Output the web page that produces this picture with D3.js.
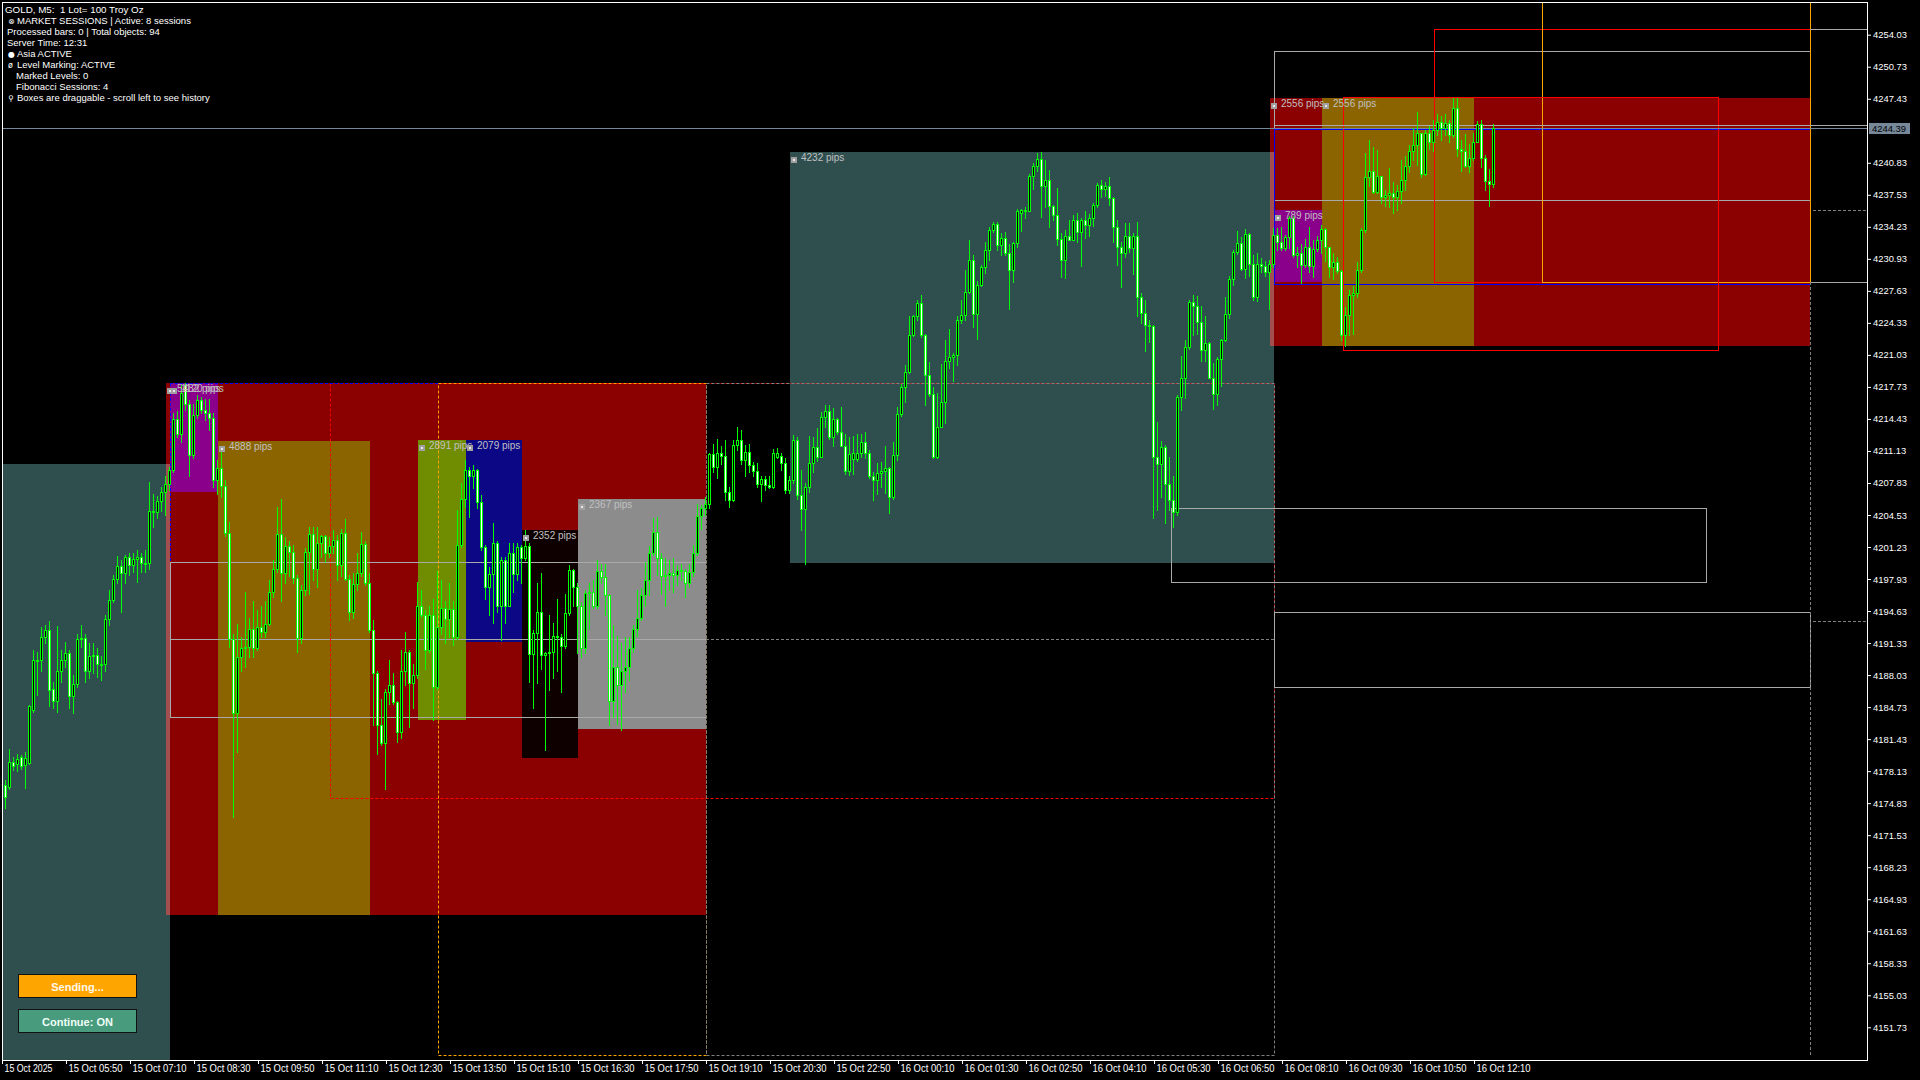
<!DOCTYPE html>
<html><head><meta charset="utf-8">
<script src="https://cdn.jsdelivr.net/npm/d3@7/dist/d3.min.js"></script>
<style>
html,body{margin:0;padding:0;background:#000;overflow:hidden}
svg{display:block}
text{font-family:"Liberation Sans",Arial,sans-serif}
</style></head><body>
<svg id="chart" width="1920" height="1080"></svg>
<script>
// ---------- DATA ----------
const barOpen=[
4176.7,4176.5,4179.1,4178.9,4179.6,4178.8,4179.0,4184.4,4189.5,4189.6,
4192.0,4192.7,4186.6,4185.4,4188.4,4189.6,4190.3,4185.9,4187.1,4191.7,
4191.9,4188.4,4190.0,4190.1,4189.2,4189.2,4193.8,4195.8,4197.9,4199.3,
4198.5,4200.2,4199.4,4200.0,4200.2,4199.6,4199.6,4204.9,4204.8,4206.0,
4206.9,4207.7,4209.2,4214.4,4212.9,4217.9,4216.0,4210.7,4214.8,4216.4,
4215.3,4215.0,4214.5,4208.1,4209.4,4207.5,4202.7,4191.8,4184.1,4189.9,
4190.8,4190.9,4192.8,4190.8,4193.0,4192.5,4193.3,4196.6,4199.0,4202.6,
4198.6,4201.3,4200.7,4198.0,4191.9,4196.8,4200.7,4202.6,4199.0,4201.6,
4202.4,4200.6,4201.3,4202.0,4199.4,4202.7,4197.9,4194.5,4197.4,4198.6,
4201.5,4197.5,4192.7,4188.2,4182.9,4181.0,4186.3,4187.0,4185.3,4182.2,
4188.5,4190.4,4187.2,4188.0,4195.2,4194.2,4190.6,4194.2,4186.8,4193.0,
4194.9,4193.8,4194.8,4192.0,4201.4,4206.2,4209.2,4208.5,4209.2,4205.9,
4201.2,4197.1,4198.4,4201.6,4195.1,4199.9,4195.2,4200.6,4198.4,4201.2,
4200.1,4201.3,4190.2,4192.4,4194.5,4190.1,4190.3,4190.4,4192.1,4192.0,
4191.0,4194.4,4198.9,4197.1,4195.1,4190.8,4196.5,4196.6,4195.2,4198.8,
4198.1,4196.3,4185.4,4188.9,4187.0,4188.4,4188.9,4190.8,4192.8,4193.9,
4196.3,4197.8,4200.6,4202.8,4200.1,4198.2,4198.3,4198.5,4198.3,4198.9,
4198.8,4197.5,4198.7,4200.6,4204.4,4205.2,4205.7,4210.8,4209.5,4210.9,
4210.6,4206.9,4206.1,4211.7,4212.3,4210.2,4211.0,4209.7,4209.1,4207.7,
4208.2,4207.6,4207.4,4210.5,4210.6,4209.9,4207.1,4208.1,4212.3,4206.6,
4205.1,4207.4,4209.9,4211.5,4210.5,4214.6,4215.2,4212.6,4214.4,4213.1,
4211.6,4209.1,4210.3,4210.3,4210.9,4212.1,4210.9,4208.5,4208.1,4208.9,
4209.1,4209.4,4206.4,4210.7,4214.9,4217.7,4219.3,4223.1,4225.0,4226.4,
4223.1,4219.0,4217.0,4210.5,4213.6,4216.2,4220.4,4220.8,4221.0,4224.6,
4225.1,4227.5,4230.8,4225.2,4228.2,4230.1,4231.8,4233.9,4234.5,4232.4,
4233.1,4231.5,4229.8,4232.6,4235.7,4236.0,4235.9,4239.5,4240.5,4241.2,
4238.4,4239.1,4236.4,4235.4,4233.0,4230.8,4233.3,4232.9,4234.9,4233.7,
4234.9,4234.4,4235.1,4236.5,4238.5,4238.1,4238.4,4237.2,4234.2,4232.2,
4231.5,4233.3,4232.0,4233.3,4227.0,4225.3,4224.1,4224.0,4210.5,4209.8,
4211.5,4207.7,4206.1,4204.8,4216.7,4218.7,4221.8,4226.5,4226.1,4224.4,
4221.5,4222.3,4218.7,4217.0,4220.6,4222.6,4225.2,4228.9,4231.6,4232.6,
4229.9,4233.5,4230.4,4227.0,4230.4,4230.2,4229.6,4230.4,4233.4,4232.7,
4232.0,4233.2,4235.1,4231.3,4231.5,4230.3,4232.2,4230.2,4231.9,4232.9,
4234.0,4232.1,4230.1,4230.6,4229.7,4223.1,4225.1,4227.2,4227.4,4229.8,
4233.9,4239.4,4240.0,4237.8,4239.5,4237.3,4237.5,4237.7,4237.3,4237.9,
4239.1,4240.5,4242.0,4242.7,4243.9,4239.7,4243.9,4243.0,4244.2,4245.0,
4244.4,4244.9,4243.7,4246.5,4242.3,4242.0,4240.5,4241.3,4243.0,4244.8,
4241.3,4239.0,4238.6];
const barHigh=[
4177.2,4180.4,4179.6,4179.9,4179.8,4180.1,4184.9,4190.6,4190.4,4193.0,
4193.2,4193.6,4187.3,4193.1,4190.6,4191.4,4190.6,4188.0,4192.3,4193.2,
4192.3,4191.3,4191.3,4190.8,4190.0,4194.2,4196.8,4198.3,4200.3,4199.9,
4200.4,4200.6,4200.6,4200.9,4200.6,4200.9,4207.9,4206.7,4206.5,4207.4,
4208.5,4209.5,4215.0,4215.2,4217.9,4218.1,4216.4,4216.0,4216.9,4216.7,
4216.5,4216.5,4215.0,4210.2,4211.0,4208.1,4203.8,4192.3,4193.3,4192.0,
4196.6,4193.9,4195.7,4194.7,4195.1,4195.7,4197.8,4199.9,4205.4,4206.2,
4202.3,4201.9,4201.4,4198.3,4197.3,4201.1,4203.3,4203.3,4203.3,4202.5,
4202.5,4202.3,4203.0,4202.5,4203.1,4204.1,4198.3,4198.5,4200.6,4202.8,
4201.8,4198.5,4193.7,4188.5,4185.6,4186.6,4189.6,4188.2,4185.4,4190.6,
4192.5,4190.6,4189.2,4197.6,4196.8,4194.7,4195.1,4195.9,4198.8,4197.8,
4195.7,4197.5,4195.7,4205.0,4207.8,4210.2,4209.5,4209.7,4209.3,4206.6,
4201.4,4199.2,4203.7,4201.9,4200.2,4200.2,4201.6,4201.6,4201.6,4201.4,
4203.0,4201.6,4192.7,4197.5,4198.5,4190.4,4194.2,4193.4,4195.9,4192.3,
4196.4,4199.4,4199.0,4197.5,4195.6,4196.8,4197.5,4197.8,4199.9,4199.5,
4199.5,4196.4,4193.2,4192.1,4191.3,4192.0,4192.0,4193.2,4196.8,4197.0,
4199.7,4201.3,4204.2,4204.3,4200.6,4200.1,4199.9,4200.1,4199.4,4199.5,
4199.0,4199.5,4201.4,4205.7,4205.6,4206.4,4210.9,4211.8,4212.4,4211.6,
4212.3,4207.4,4212.3,4213.6,4213.3,4211.7,4211.8,4210.0,4209.9,4208.5,
4208.5,4208.5,4211.3,4211.4,4210.9,4210.4,4208.5,4212.8,4212.6,4209.2,
4207.8,4212.7,4212.6,4213.5,4215.1,4215.9,4215.9,4215.6,4214.5,4215.7,
4212.9,4212.6,4212.7,4212.9,4212.9,4213.1,4211.2,4209.0,4209.9,4210.0,
4211.6,4209.5,4212.1,4215.7,4218.0,4220.0,4225.0,4225.1,4226.7,4227.2,
4223.2,4220.3,4217.7,4217.1,4220.1,4222.6,4223.7,4221.2,4225.0,4226.7,
4229.8,4232.9,4231.3,4228.6,4230.3,4232.7,4234.2,4234.7,4234.7,4233.6,
4233.7,4232.5,4232.7,4236.1,4236.1,4236.3,4239.7,4240.8,4241.8,4241.9,
4241.1,4240.1,4236.5,4238.2,4233.6,4233.9,4234.9,4235.4,4235.7,4235.1,
4235.9,4235.5,4236.7,4238.7,4239.1,4238.9,4239.4,4237.3,4234.9,4232.7,
4234.6,4234.6,4233.6,4234.7,4227.4,4226.7,4224.6,4224.1,4214.1,4212.2,
4211.7,4210.5,4208.5,4216.9,4220.9,4222.6,4226.7,4227.2,4227.1,4226.1,
4225.0,4222.4,4220.2,4220.8,4222.7,4227.0,4229.2,4231.8,4233.8,4233.2,
4234.0,4233.6,4231.3,4231.5,4231.0,4230.7,4230.8,4234.1,4234.1,4234.2,
4233.4,4235.3,4235.3,4232.2,4232.5,4233.0,4234.2,4232.9,4233.3,4234.4,
4234.1,4232.2,4231.5,4231.1,4229.8,4226.0,4227.7,4228.1,4230.6,4234.1,
4241.8,4243.2,4242.5,4242.1,4239.5,4238.0,4240.3,4238.9,4238.5,4241.1,
4241.5,4242.7,4244.4,4246.1,4243.9,4244.2,4244.6,4245.2,4245.9,4245.6,
4245.9,4245.2,4247.5,4247.5,4243.2,4243.8,4242.8,4243.9,4245.1,4245.2,
4241.6,4240.2,4244.8];
const barLow=[
4174.3,4176.3,4178.2,4178.1,4178.4,4176.4,4178.9,4184.2,4186.0,4188.5,
4191.3,4184.8,4184.6,4184.2,4187.3,4188.9,4184.6,4184.1,4186.8,4190.9,
4187.3,4187.7,4188.2,4187.8,4187.5,4188.5,4193.2,4195.6,4197.5,4194.5,
4197.5,4198.3,4198.7,4197.6,4198.7,4198.7,4199.0,4203.3,4204.2,4204.9,
4204.5,4207.1,4209.0,4212.6,4212.1,4215.3,4208.5,4210.4,4214.5,4215.0,
4214.3,4213.3,4207.4,4206.7,4206.4,4202.4,4190.9,4173.4,4180.1,4188.5,
4188.9,4189.9,4189.9,4190.6,4192.0,4192.0,4193.2,4196.1,4198.7,4195.7,
4197.5,4198.2,4197.5,4190.4,4191.3,4196.3,4196.4,4197.8,4197.1,4200.2,
4199.7,4200.2,4200.6,4197.8,4198.2,4197.8,4193.7,4193.9,4196.8,4198.2,
4197.3,4192.5,4182.9,4179.9,4180.8,4176.3,4185.1,4185.1,4181.1,4181.5,
4187.0,4182.7,4184.6,4187.7,4194.0,4188.7,4190.4,4183.4,4186.6,4192.3,
4191.3,4192.0,4191.1,4191.8,4201.2,4205.4,4204.3,4207.3,4205.2,4200.9,
4195.9,4194.2,4193.4,4194.5,4191.6,4193.4,4195.1,4196.6,4197.8,4197.5,
4199.9,4187.3,4184.6,4187.2,4188.7,4180.3,4186.5,4187.7,4188.5,4186.3,
4190.8,4194.2,4195.2,4190.3,4189.9,4190.3,4192.8,4194.9,4194.9,4197.5,
4194.2,4182.9,4183.7,4183.0,4182.4,4186.3,4187.5,4190.4,4192.1,4193.7,
4195.1,4196.3,4200.4,4198.3,4196.4,4195.1,4196.8,4196.6,4197.3,4197.8,
4196.1,4197.1,4198.2,4200.4,4203.1,4204.5,4205.2,4209.0,4208.3,4209.8,
4206.1,4205.4,4206.0,4211.2,4209.8,4208.5,4209.0,4208.5,4207.4,4206.0,
4207.1,4207.3,4207.3,4210.4,4209.2,4206.8,4206.8,4207.8,4206.2,4203.0,
4199.5,4206.9,4209.0,4210.1,4210.5,4213.6,4212.4,4211.6,4212.9,4211.6,
4208.8,4208.6,4208.8,4210.1,4210.5,4210.4,4208.3,4206.1,4206.7,4207.4,
4206.8,4204.7,4206.2,4210.2,4214.7,4216.2,4219.2,4223.0,4224.6,4222.9,
4215.9,4216.8,4210.4,4210.4,4213.6,4214.0,4219.7,4218.3,4220.0,4224.3,
4224.6,4227.4,4223.9,4222.7,4228.1,4229.5,4230.8,4233.7,4231.8,4231.3,
4231.3,4225.8,4228.5,4232.2,4233.8,4235.1,4235.9,4238.1,4240.0,4235.2,
4236.3,4234.2,4234.9,4232.4,4229.1,4229.0,4232.9,4232.9,4232.7,4230.2,
4233.1,4233.3,4234.3,4236.3,4237.3,4237.4,4236.5,4232.7,4230.3,4228.0,
4231.1,4231.6,4229.4,4225.0,4224.3,4221.4,4222.4,4204.2,4205.0,4206.4,
4203.7,4205.0,4203.3,4204.5,4215.4,4216.6,4221.6,4223.1,4223.2,4220.4,
4220.4,4218.6,4215.5,4215.9,4217.8,4222.5,4224.8,4228.2,4231.4,4229.8,
4229.0,4229.2,4226.7,4226.6,4229.6,4229.2,4225.8,4230.1,4231.8,4231.8,
4231.8,4232.0,4231.1,4230.1,4228.4,4230.1,4229.6,4229.1,4231.7,4231.5,
4230.7,4229.1,4228.9,4229.5,4222.6,4221.9,4223.1,4223.2,4227.0,4229.6,
4233.7,4238.4,4237.7,4237.7,4236.7,4236.4,4236.3,4235.7,4236.0,4236.7,
4238.0,4239.9,4241.1,4240.6,4239.4,4239.6,4242.3,4242.0,4243.7,4243.2,
4243.7,4243.0,4243.5,4241.5,4240.0,4240.4,4239.9,4241.1,4243.0,4240.4,
4238.0,4236.4,4238.3];
const barClose=[
4175.5,4179.1,4178.7,4179.4,4178.7,4179.5,4184.8,4189.6,4189.6,4192.0,
4192.7,4186.5,4185.4,4188.4,4189.6,4190.3,4185.9,4187.1,4191.7,4191.9,
4188.4,4190.0,4190.1,4189.2,4189.1,4193.8,4195.8,4197.9,4199.3,4198.5,
4200.2,4199.4,4200.0,4200.2,4199.6,4199.5,4204.9,4204.8,4206.0,4206.9,
4207.7,4209.2,4214.4,4212.9,4217.1,4216.0,4210.7,4214.8,4216.4,4215.3,
4215.0,4214.5,4208.1,4209.4,4207.5,4202.7,4191.8,4184.1,4189.9,4190.8,
4190.9,4192.8,4190.8,4193.0,4192.5,4193.3,4196.6,4199.0,4202.6,4198.6,
4201.3,4200.7,4198.0,4191.9,4196.8,4200.7,4202.6,4199.0,4201.6,4202.4,
4200.6,4201.3,4202.0,4199.4,4202.7,4197.9,4194.5,4197.4,4198.6,4201.5,
4197.5,4192.7,4188.2,4182.9,4181.0,4186.3,4187.0,4185.3,4182.2,4188.5,
4190.4,4187.2,4188.0,4195.2,4194.2,4190.6,4194.2,4186.8,4193.0,4194.9,
4193.8,4194.8,4192.0,4201.4,4206.2,4209.2,4208.5,4209.2,4205.9,4201.2,
4197.1,4198.4,4201.6,4195.1,4199.9,4195.2,4200.6,4198.4,4201.2,4200.1,
4201.3,4190.2,4192.4,4194.5,4190.1,4190.3,4190.4,4192.1,4192.0,4191.0,
4194.4,4198.9,4197.1,4195.1,4190.8,4196.5,4196.6,4195.2,4198.8,4198.1,
4196.3,4185.4,4188.9,4187.0,4188.4,4188.9,4190.8,4192.8,4193.9,4196.3,
4197.8,4200.6,4202.8,4200.1,4198.2,4198.3,4198.5,4198.3,4198.9,4198.8,
4197.5,4198.7,4200.6,4204.4,4205.2,4205.7,4210.8,4209.5,4210.9,4210.6,
4206.9,4206.1,4211.7,4212.3,4210.2,4211.0,4209.7,4209.1,4207.7,4208.2,
4207.6,4207.4,4210.9,4210.9,4209.9,4207.1,4208.1,4212.3,4206.6,4205.1,
4207.4,4209.9,4211.5,4210.5,4214.6,4215.2,4212.6,4214.4,4213.1,4211.6,
4209.1,4210.8,4210.9,4210.9,4212.1,4210.9,4208.5,4208.1,4208.9,4209.1,
4209.4,4206.4,4210.7,4214.9,4217.7,4219.3,4223.1,4225.0,4226.4,4223.1,
4219.0,4217.0,4210.5,4213.6,4216.2,4220.4,4220.8,4221.0,4224.6,4225.1,
4227.5,4230.8,4225.2,4228.2,4230.1,4231.8,4233.9,4234.5,4232.4,4233.1,
4231.5,4229.8,4232.6,4235.9,4236.0,4235.9,4239.5,4240.5,4241.2,4238.4,
4239.1,4236.4,4235.4,4233.0,4230.8,4233.3,4232.9,4234.9,4233.7,4234.9,
4234.4,4235.1,4236.5,4238.5,4238.1,4238.4,4237.2,4234.2,4232.2,4231.5,
4233.3,4232.0,4233.3,4227.0,4225.3,4224.1,4224.0,4210.5,4209.8,4211.5,
4207.7,4206.1,4204.8,4216.7,4218.7,4221.8,4226.5,4226.1,4224.4,4221.5,
4222.3,4218.7,4217.0,4220.6,4222.6,4225.2,4228.9,4231.6,4232.6,4229.9,
4233.5,4230.4,4227.0,4230.4,4230.2,4229.6,4230.4,4233.4,4232.7,4232.0,
4233.2,4235.1,4231.3,4231.5,4230.3,4232.2,4230.2,4231.9,4232.9,4234.0,
4232.1,4230.1,4230.6,4229.7,4223.1,4225.1,4227.2,4227.4,4229.8,4233.9,
4239.4,4240.0,4237.8,4239.5,4237.3,4237.5,4237.7,4237.3,4237.9,4239.1,
4240.5,4242.0,4242.7,4243.9,4239.7,4243.9,4243.0,4244.2,4245.0,4244.4,
4244.9,4243.7,4246.5,4242.3,4242.0,4240.5,4241.3,4243.0,4244.8,4241.3,
4239.0,4238.6,4244.39];

const bidPrice=4244.39;
const priceTicks=[4254.03,4250.73,4247.43,4240.83,4237.53,4234.23,4230.93,4227.63,4224.33,4221.03,
4217.73,4214.43,4211.13,4207.83,4204.53,4201.23,4197.93,4194.63,4191.33,4188.03,4184.73,4181.43,
4178.13,4174.83,4171.53,4168.23,4164.93,4161.63,4158.33,4155.03,4151.73];
const timeLabels=["15 Oct 2025","15 Oct 05:50","15 Oct 07:10","15 Oct 08:30","15 Oct 09:50","15 Oct 11:10",
"15 Oct 12:30","15 Oct 13:50","15 Oct 15:10","15 Oct 16:30","15 Oct 17:50","15 Oct 19:10","15 Oct 20:30",
"15 Oct 22:50","16 Oct 00:10","16 Oct 01:30","16 Oct 02:50","16 Oct 04:10","16 Oct 05:30","16 Oct 06:50",
"16 Oct 08:10","16 Oct 09:30","16 Oct 10:50","16 Oct 12:10"];
const timeLabelBars=[0,16,32,48,64,80,96,112,128,144,160,176,192,208,224,240,256,272,288,304,320,336,352,368];

// session boxes (bar index from/to, high/low price, pips label)
const boxFrom=[-0.5,40.25,41.25,53.25,103.25,115.25,129.25,143.25,196.25,316.25,329.25,317.25];
const boxTo  =[41.25,175.25,53.25,91.25,115.25,129.25,143.25,175.25,317.25,451.25,367.25,329.25];
const boxHigh=[4209.79,4218.13,4218.13,4212.19,4212.26,4212.26,4203.01,4206.14,4241.93,4247.51,4247.51,4235.95];
const boxLow =[4140.00,4163.31,4206.93,4163.31,4183.35,4191.47,4179.49,4182.47,4199.61,4221.95,4221.95,4228.55];
const boxPips=[null,"5482","1120","4888","2891","2079","2352","2367","4232","2556","2556","789"];

// fibonacci levels of first session
const fibFrom=41.25, fibTo=175.25;
const fibLevels=[4199.69,4191.75,4183.71];

// dashed range frames
const dashFrom=[81.25,108.25,175.25];
const dashTo  =[317.25,175.25,317.25];
const dashHigh=[4218.13,4218.13,4218.13];
const dashLow =[4175.37,4148.88,4148.88];
const dashMid =4191.75;

// solid outline frames (right side)
const frameFrom=[317.25,317.25,357.25,384.25,334.5,291.5,317.25];
const frameTo  =[451.25,451.25,451.25,451.25,428.25,425.25,451.25];
const frameHigh=[4252.37,4244.36,4254.65,4257.40,4247.56,4205.25,4194.53];
const frameLow =[4236.96,4228.29,4228.50,4228.50,4221.55,4197.62,4186.80];
const extraLevels=[4254.65,4228.50];
const markLevel=4244.69;
const shortDashLevels=[4235.92,4193.60];

const infoLines=[
 {icon:"",text:"GOLD, M5:  1 Lot= 100 Troy Oz",indent:0},
 {icon:"\u2297",text:"MARKET SESSIONS | Active: 8 sessions",indent:1},
 {icon:"",text:"Processed bars: 0 | Total objects: 94",indent:0},
 {icon:"",text:"Server Time: 12:31",indent:0},
 {icon:"\u25CF",text:"Asia ACTIVE",indent:1},
 {icon:"\u00F8",text:"Level Marking: ACTIVE",indent:1},
 {icon:"",text:"Marked Levels: 0",indent:2},
 {icon:"",text:"Fibonacci Sessions: 4",indent:2},
 {icon:"\u26B2",text:"Boxes are draggable - scroll left to see history",indent:1}
];
const buttonLabels=["Sending...","Continue: ON"];

// ---------- STYLE ----------
const boxColors=["#2F4F4F","#8B0000","#8B008B","#8B6400","#708C00","#0C0785","#0F0000","#8C8C8C","#2F4F4F","#8B0000","#8B6400","#8B008B"];
const xorColor="#A44F4F";
const dashColors=["#FF0000","#FFA500","#808080"];
const frameColors=["#A9A9A9","#0000FF","#FF0000","#FFA500","#FF0000","#A9A9A9","#A9A9A9"];

// ---------- DRAW ----------
const svg=d3.select("#chart");
const X=d3.scaleLinear().domain([0,372]).range([5,1493]);
const Y=d3.scaleLinear().domain([4148.36,4257.4]).range([1060,2]);
const px=v=>Math.round(X(v)), py=v=>Math.round(Y(v));

svg.append("rect").attr("width",1920).attr("height",1080).attr("fill","#000");
svg.append("defs").append("clipPath").attr("id","plotclip")
  .append("rect").attr("x",3).attr("y",3).attr("width",1864).attr("height",1057);
const plot=svg.append("g").attr("clip-path","url(#plotclip)");

function fillRect(g,b0,b1,hi,lo,color){
  g.append("rect").attr("x",px(b0)).attr("y",py(hi))
   .attr("width",px(b1)-px(b0)).attr("height",py(lo)-py(hi)).attr("fill",color);
}
function strokeRect(g,b0,b1,hi,lo,color,dash){
  const r=g.append("rect").attr("x",px(b0)+0.5).attr("y",py(hi)+0.5)
   .attr("width",px(b1)-px(b0)).attr("height",py(lo)-py(hi))
   .attr("fill","none").attr("stroke",color).attr("stroke-width",1);
  if(dash) r.attr("stroke-dasharray",dash);
}
function hLine(g,b0,b1,p,color,dash){
  const l=g.append("line").attr("x1",px(b0)).attr("x2",px(b1))
   .attr("y1",py(p)+0.5).attr("y2",py(p)+0.5).attr("stroke",color).attr("stroke-width",1);
  if(dash) l.attr("stroke-dasharray",dash);
}
function vLine(g,b,p0,p1,color,dash){
  const l=g.append("line").attr("x1",px(b)+0.5).attr("x2",px(b)+0.5)
   .attr("y1",py(p0)).attr("y2",py(p1)).attr("stroke",color).attr("stroke-width",1);
  if(dash) l.attr("stroke-dasharray",dash);
}

// fills
const fills=plot.append("g");
boxFrom.forEach((b,i)=>{
  fillRect(fills,b,boxTo[i],boxHigh[i],boxLow[i],boxColors[i]);
  if(i===1||i===9){
    const t=i===1?0:8;
    const b0=Math.max(boxFrom[t],boxFrom[i]), b1=Math.min(boxTo[t],boxTo[i]);
    const hi=Math.min(boxHigh[t],boxHigh[i]), lo=Math.max(boxLow[t],boxLow[i]);
    if(b1>b0&&hi>lo) fillRect(fills,b0,b1,hi,lo,xorColor);
  }
});

// lines
const lines=plot.append("g");
fibLevels.forEach(p=>hLine(lines,fibFrom,fibTo,p,"#A9A9A9"));
vLine(lines,fibFrom,fibLevels[0],fibLevels[2],"#A9A9A9");
dashFrom.forEach((b,i)=>strokeRect(lines,b,dashTo[i],dashHigh[i],dashLow[i],dashColors[i],"3,2"));
hLine(lines,dashFrom[2],dashTo[2],dashMid,"#808080","3,2");
hLine(lines,fibFrom,dashFrom[1],dashHigh[0],"#0000FF","3,2");
vLine(lines,fibFrom,dashHigh[0],fibLevels[0],"#0000FF","3,2");
frameFrom.forEach((b,i)=>strokeRect(lines,b,frameTo[i],frameHigh[i],frameLow[i],frameColors[i]));
extraLevels.forEach(p=>hLine(lines,451.25,465.5,p,"#A9A9A9"));
hLine(lines,317.25,465.5,markLevel,"#A9A9A9");
vLine(lines,451.25,frameLow[3],dashLow[1],"#808080","3,2");
shortDashLevels.forEach(p=>hLine(lines,452,465.5,p,"#808080","3,2"));
hLine(lines,-1,465.5,bidPrice,"#778899");

// candles
const candles=plot.append("g");
for(let i=0;i<barOpen.length;i++){
  const o=barOpen[i],h=barHigh[i],l=barLow[i],c=barClose[i];
  const xc=px(i);
  const top=Math.max(o,c), bot=Math.min(o,c);
  candles.append("line").attr("x1",xc+0.5).attr("x2",xc+0.5)
    .attr("y1",py(Math.max(h,top))).attr("y2",py(Math.min(l,bot))+1)
    .attr("stroke","#00FF00").attr("stroke-width",1);
  const yt=py(top), yb=py(bot);
  candles.append("rect").attr("x",xc-0.5).attr("y",yt+0.5)
    .attr("width",2).attr("height",Math.max(yb-yt,0))
    .attr("fill",c>=o?"#000":"#fff").attr("stroke","#00FF00").attr("stroke-width",1);
}

// pip labels
const labels=plot.append("g");
boxFrom.forEach((b,i)=>{
  if(!boxPips[i]) return;
  const x0=px(b), y0=py(boxHigh[i]);
  labels.append("rect").attr("x",x0+1).attr("y",y0+5).attr("width",6).attr("height",6).attr("fill","#A0A0A0");
  labels.append("rect").attr("x",x0+3).attr("y",y0+7).attr("width",2).attr("height",2).attr("fill","#E8E8E8");
  labels.append("text").attr("x",x0+11).attr("y",y0+9).attr("fill","#C0C0C0")
    .style("font-size","10px").text(boxPips[i]+" pips");
});

// frame
const fr=svg.append("g").attr("stroke","#fff").attr("stroke-width",1);
fr.append("line").attr("x1",2).attr("x2",1868).attr("y1",2.5).attr("y2",2.5);
fr.append("line").attr("x1",2.5).attr("x2",2.5).attr("y1",2).attr("y2",1061);

// price axis
const yAxis=d3.axisRight(Y).tickValues(priceTicks).tickFormat(d=>d.toFixed(2)).tickSize(4).tickPadding(2);
const ga=svg.append("g").attr("transform","translate(1867,0)").call(yAxis);
ga.select(".domain").remove();
ga.selectAll(".tick line").attr("stroke","#fff");
ga.selectAll(".tick text").attr("fill","#fff").style("font-size","9.4px").style("font-family","Liberation Sans, Arial, sans-serif");
svg.append("line").attr("x1",1867.5).attr("x2",1867.5).attr("y1",2).attr("y2",1061).attr("stroke","#fff");

// bid label
svg.append("rect").attr("x",1869).attr("y",py(bidPrice)-5).attr("width",41).attr("height",11).attr("fill","#778899");
svg.append("text").attr("x",1872).attr("y",py(bidPrice)+4).attr("fill","#000").style("font-size","9.4px").text(bidPrice.toFixed(2));

// time axis
const xAxis=d3.axisBottom(X).tickValues(timeLabelBars.map(b=>b-0.75)).tickFormat((d,i)=>timeLabels[i]).tickSize(4).tickPadding(1);
const gx=svg.append("g").attr("transform","translate(0,1060)").call(xAxis);
gx.select(".domain").remove();
gx.selectAll(".tick line").attr("stroke","#fff");
gx.selectAll(".tick text").attr("fill","#fff").attr("text-anchor","start").attr("x",2)
  .style("font-size","10.2px").style("font-family","Liberation Sans, Arial, sans-serif")
  .attr("textLength",(d,i)=>i===0?48:54).attr("lengthAdjust","spacingAndGlyphs");
svg.append("line").attr("x1",2).attr("x2",1868).attr("y1",1060.5).attr("y2",1060.5).attr("stroke","#fff");

// info text
const baselines=[12.5,23.5,34.8,46,57,68,79,90,101];
const info=svg.append("g").attr("fill","#fff");
infoLines.forEach((ln,i)=>{
  const fs=i===0?"9.8px":"9.5px";
  if(ln.icon) info.append("text").attr("x",8).attr("y",baselines[i]).style("font-size","8px").style("font-family","DejaVu Sans").text(ln.icon);
  const xs=ln.indent===0?(i===0?5:7):(ln.indent===1?17:16);
  info.append("text").attr("x",xs).attr("y",baselines[i]).style("font-size",fs).style("white-space","pre").text(ln.text);
});

// buttons
const btnY=[974,1009], btnFill=["#FFA500","#489B7D"], btnText=["#FFF8EC","#EFFFF8"];
buttonLabels.forEach((t,i)=>{
  svg.append("rect").attr("x",18.5).attr("y",btnY[i]+0.5).attr("width",118).attr("height",23)
    .attr("fill",btnFill[i]).attr("stroke","#111").attr("stroke-width",1);
  svg.append("text").attr("x",77.5).attr("y",btnY[i]+16.5).attr("text-anchor","middle")
    .attr("fill",btnText[i]).style("font-size","11px").style("font-weight","bold").text(t);
});
</script>
</body></html>
